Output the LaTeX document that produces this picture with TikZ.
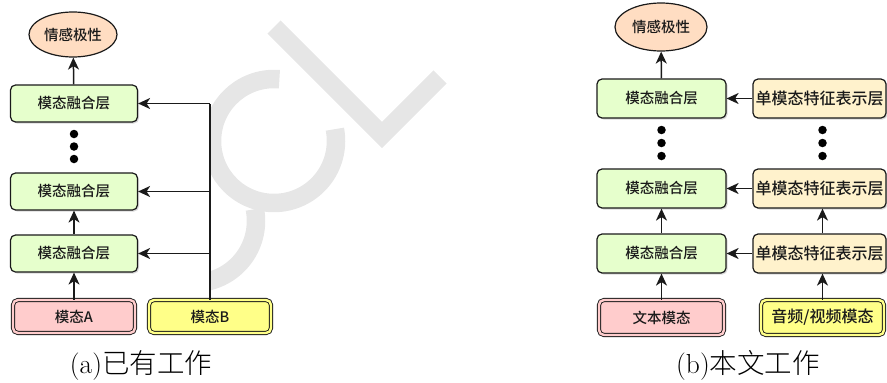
\documentclass[tikz,border=0pt]{standalone}
\usepackage{fontspec}
\newfontfamily\cjk{Noto Sans CJK SC}[UprightFont={* Medium}]
\newfontfamily\cjkcap{Noto Sans CJK SC}[UprightFont={* Light}]
\usetikzlibrary{arrows.meta,shapes.geometric,shadows}

\definecolor{fusefill}{HTML}{E6FFCC}
\definecolor{featfill}{HTML}{FFF2CC}
\definecolor{polfill}{HTML}{FFDDC2}
\definecolor{pinkfill}{HTML}{FFCCCC}
\definecolor{yelfill}{HTML}{FFFF88}
\definecolor{wmgray}{HTML}{E6E6E6}
\definecolor{ink}{HTML}{1A1A1A}

\begin{document}
\begin{tikzpicture}[x=1pt,y=-1pt,
  box/.style={draw=ink, line width=1.2pt, rounded corners=5pt, inner sep=0pt,
    text=ink, font=\cjk\fontsize{14.5}{16}\selectfont},
  shade/.style={drop shadow={shadow xshift=1.5pt, shadow yshift=-1.5pt, opacity=0.3}},
  fuse/.style={box, shade, fill=fusefill, minimum width=127pt, minimum height=37pt},
  feat/.style={box, shade, fill=featfill, minimum width=133pt, minimum height=38pt,
    font=\cjk\fontsize{16}{18}\selectfont},
  polar/.style={ellipse, draw=ink, line width=1.2pt, fill=polfill, inner sep=0pt,
    text=ink, font=\cjk\fontsize{14.5}{16}\selectfont},
  modal/.style={box, line width=0.9pt, double distance=2.4pt, minimum height=33pt},
  arr/.style={draw=ink, line width=1.5pt, -{Stealth[length=12pt,width=11pt,inset=3.5pt]}},
  wire/.style={draw=ink, line width=1.5pt},
  dot/.style={circle, fill=black, inner sep=0pt, minimum size=8.5pt},
  caption/.style={inner sep=0pt, anchor=base, font=\fontsize{27.5}{32}\selectfont},
  wmark/.style={wmgray, line width=18.5pt, line cap=butt, line join=miter}
]
\useasboundingbox (0,0) rectangle (887,383);

% faint "CCL" stamp behind the left panel
\begin{scope}
  \clip (209.5,0) rectangle (887,383);
  \draw[wmark] (274,27) -- (382,135) -- (440,77);
  \draw[wmark] (274,141) ++(-85:62) arc[start angle=-85, end angle=-371, radius=62];
  \draw[wmark] (194,221) ++(-85:62) arc[start angle=-85, end angle=-371, radius=62];
\end{scope}

% ---------------- (a) existing work ----------------
\node[polar, minimum width=88pt, minimum height=45pt] (pa) at (73,34.5) {情感极性};
\node[fuse] (fa1) at (74,103.5) {模态融合层};
\node[fuse] (fa2) at (74,191.5) {模态融合层};
\node[fuse] (fa3) at (74,253.5) {模态融合层};
\node[modal, fill=pinkfill, double=pinkfill, minimum width=122pt] (ma) at (74,316.5) {模态A};
\node[modal, fill=yelfill, double=yelfill, minimum width=122pt] (mb) at (210,316.5) {模态B};

\node[dot] (da1) at (74,134) {};
\node[dot] (da2) at (74,146.5) {};
\node[dot] (da3) at (74,159) {};

\draw[arr] (fa1) -- (pa);
\draw[arr] (fa3) -- (fa2);
\draw[arr] (ma) -- (fa3);

\coordinate (ja1) at (mb.north |- fa1.east);
\coordinate (ja2) at (mb.north |- fa2.east);
\coordinate (ja3) at (mb.north |- fa3.east);
\draw[wire] (mb.north) -- (ja1);
\draw[arr] (ja1) -- (fa1.east);
\draw[arr] (ja2) -- (fa2.east);
\draw[arr] (ja3) -- (fa3.east);

\node[caption] (capa) at (141,373) {(a){\cjkcap 已有工作}};

% ---------------- (b) this work ----------------
\node[polar, minimum width=92pt, minimum height=48pt] (pb) at (661,27) {情感极性};
\node[fuse, minimum width=129pt, minimum height=39pt] (fb1) at (661.5,98.5) {模态融合层};
\node[fuse, minimum width=129pt, minimum height=39pt] (fb2) at (661.5,188.5) {模态融合层};
\node[fuse, minimum width=129pt, minimum height=39pt] (fb3) at (661.5,253.5) {模态融合层};
\node[feat, minimum height=39pt] (hb1) at (819.5,98.5) {单模态特征表示层};
\node[feat, minimum height=39pt] (hb2) at (819.5,188.5) {单模态特征表示层};
\node[feat, minimum height=39pt] (hb3) at (819.5,253.5) {单模态特征表示层};
\node[modal, fill=pinkfill, double=pinkfill, minimum width=125pt, minimum height=35pt] (tb) at (661.5,317.5) {文本模态};
\node[modal, fill=yelfill, double=yelfill, minimum width=123pt, minimum height=35pt,
  font=\cjk\fontsize{16}{18}\selectfont] (ab) at (822.5,317.5) {音频/视频模态};

\node[dot] (db1) at (661.5,130) {};
\node[dot] (db2) at (661.5,143) {};
\node[dot] (db3) at (661.5,156) {};
\node[dot] (db4) at (822.5,130) {};
\node[dot] (db5) at (822.5,143) {};
\node[dot] (db6) at (822.5,156) {};

\draw[arr] (fb1) -- (pb);
\draw[arr] (fb3) -- (fb2);
\draw[arr] (tb) -- (fb3);
\draw[arr] (hb1) -- (fb1);
\draw[arr] (hb2) -- (fb2);
\draw[arr] (hb3) -- (fb3);

\coordinate (kb3) at (ab.north |- hb3.south);
\coordinate (kb2a) at (ab.north |- hb3.north);
\coordinate (kb2) at (ab.north |- hb2.south);
\draw[arr] (ab.north) -- (kb3);
\draw[arr] (kb2a) -- (kb2);

\node[caption] (capb) at (748,373) {(b){\cjkcap 本文工作}};
\end{tikzpicture}
\end{document}
